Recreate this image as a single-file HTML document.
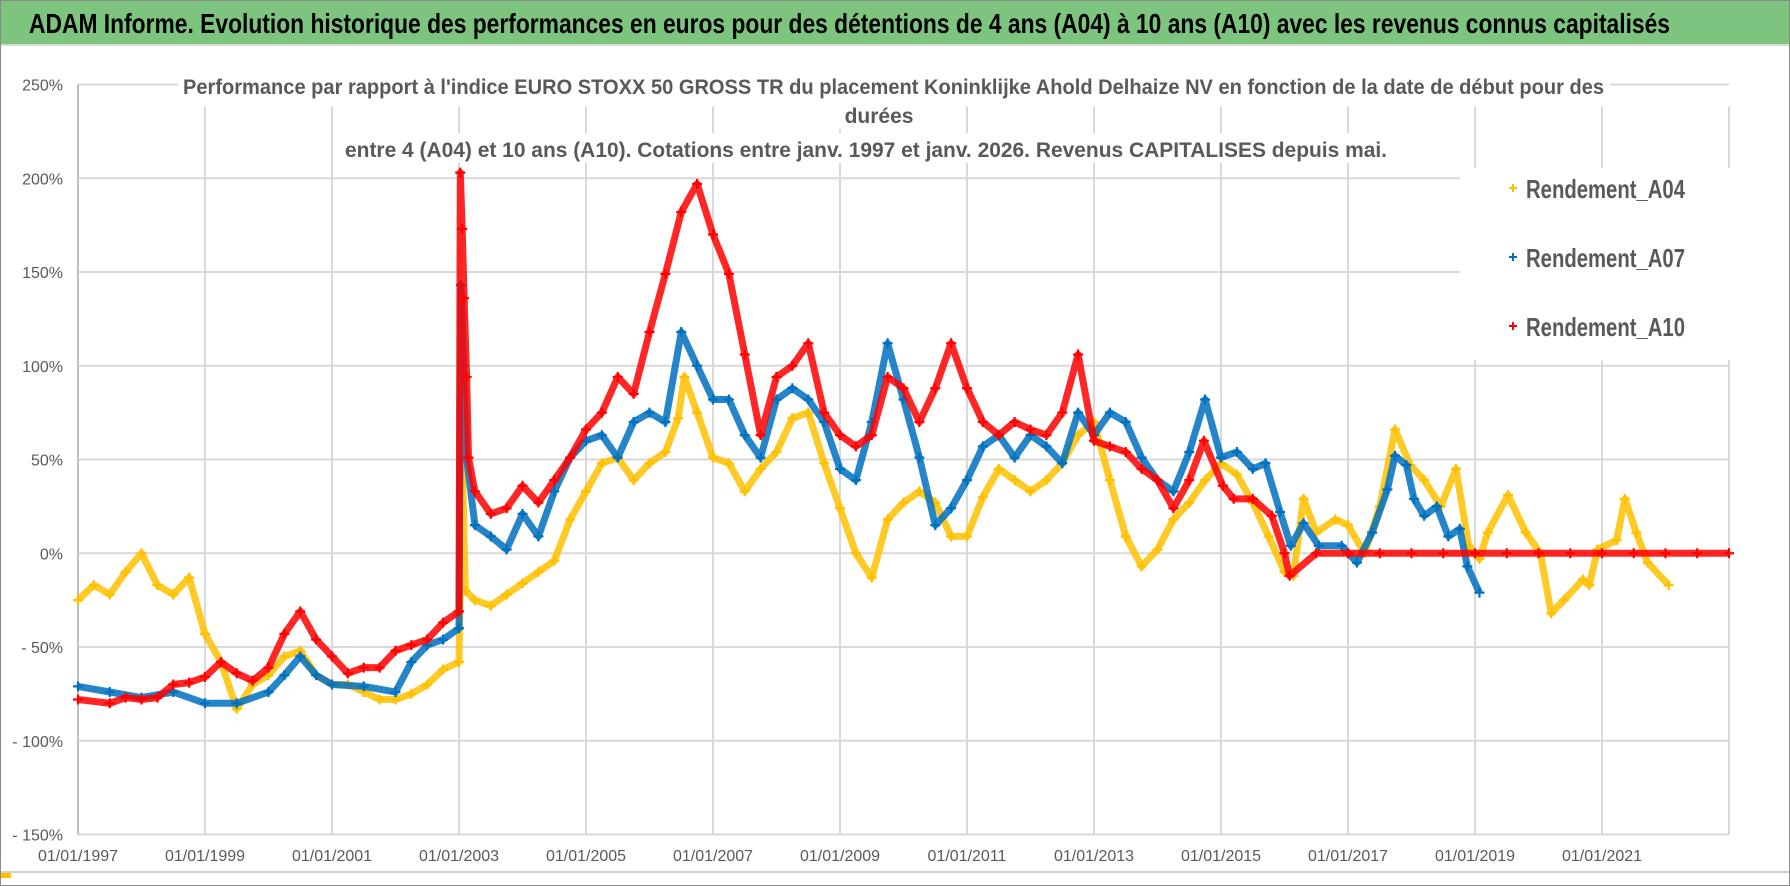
<!DOCTYPE html>
<html><head><meta charset="utf-8"><style>
html,body{margin:0;padding:0;background:#fff;}
svg{display:block;font-family:"Liberation Sans",sans-serif;}
</style></head><body>
<svg id="chart" width="1790" height="886" viewBox="0 0 1790 886">
<rect x="0.5" y="0.5" width="1789" height="885" fill="#fff" stroke="#8a8a8a"/>
<rect x="1" y="1" width="1788" height="43" fill="#7dc57e"/>
<line x1="1" y1="45" x2="1789" y2="45" stroke="#d9d9d9" stroke-width="2"/>
<text x="29" y="33" font-size="28" font-weight="bold" fill="#000" textLength="1641" lengthAdjust="spacingAndGlyphs">ADAM Informe. Evolution historique des performances en euros pour des détentions de 4 ans (A04) à 10 ans (A10) avec les revenus connus capitalisés</text>
<g id="grid"></g>
<g id="series"></g>
<rect x="1460" y="168" width="270" height="192" fill="#fff"/>
<g font-weight="bold" fill="#595959" font-size="21">
<rect x="178" y="72" width="1432" height="28" fill="#fff"/>
<rect x="836" y="101" width="88" height="28" fill="#fff"/>
<rect x="340" y="133" width="1052" height="30" fill="#fff"/>
<text x="183" y="94" textLength="1421" lengthAdjust="spacingAndGlyphs">Performance par rapport à l'indice EURO STOXX 50 GROSS TR  du placement Koninklijke Ahold Delhaize NV en fonction de la date de début pour des</text>
<text x="879" y="123" text-anchor="middle">durées</text>
<text x="345" y="157" textLength="1042" lengthAdjust="spacingAndGlyphs">entre 4 (A04) et 10 ans (A10).  Cotations entre janv. 1997 et janv. 2026. Revenus CAPITALISES depuis mai.</text>
</g>
<g id="legend"></g>
<line x1="1" y1="872" x2="1789" y2="872" stroke="#d0d0d0" stroke-width="2"/>
<rect x="1" y="873" width="10" height="5" fill="#ffc000"/>
</svg>
<script>
const yTicks = [250,200,150,100,50,0,-50,-100,-150];
const yTickLabels = ["250%","200%","150%","100%","50%","0%","- 50%","- 100%","- 150%"];
const xTicks = [1997,1999,2001,2003,2005,2007,2009,2011,2013,2015,2017,2019,2021,2023];
const xTickLabels = ["01/01/1997","01/01/1999","01/01/2001","01/01/2003","01/01/2005","01/01/2007","01/01/2009","01/01/2011","01/01/2013","01/01/2015","01/01/2017","01/01/2019","01/01/2021",""];
const seriesNames = ["Rendement_A04","Rendement_A07","Rendement_A10"];
const a04Dates = [1997.0,1997.25,1997.5,1997.75,1998.0,1998.25,1998.5,1998.75,1999.0,1999.25,1999.5,1999.75,2000.0,2000.25,2000.5,2000.75,2001.0,2001.25,2001.5,2001.75,2002.0,2002.25,2002.5,2002.75,2003.0,2003.05,2003.1,2003.25,2003.5,2003.75,2004.0,2004.25,2004.5,2004.75,2005.0,2005.25,2005.5,2005.75,2006.0,2006.25,2006.45,2006.55,2006.75,2007.0,2007.25,2007.5,2007.75,2008.0,2008.25,2008.5,2008.75,2009.0,2009.25,2009.5,2009.75,2010.0,2010.25,2010.5,2010.75,2011.0,2011.25,2011.5,2011.75,2012.0,2012.25,2012.5,2012.75,2013.0,2013.25,2013.5,2013.75,2014.0,2014.25,2014.5,2014.75,2015.0,2015.25,2015.5,2015.75,2016.0,2016.14,2016.3,2016.5,2016.8,2017.0,2017.26,2017.5,2017.74,2017.98,2018.2,2018.46,2018.7,2018.9,2019.07,2019.2,2019.52,2019.8,2020.03,2020.2,2020.4,2020.7,2020.8,2020.93,2021.23,2021.36,2021.54,2021.72,2022.05];
const a04Values = [-25,-17,-22,-10,0,-17,-22,-13,-43,-58,-83,-70,-65,-55,-52,-65,-70,-70,-74,-78,-78,-75,-70,-62,-58,50,-20,-25,-28,-22,-16,-10,-4,18,33,48,51,39,48,54,72,94,75,51,48,33,45,54,72,75,48,24,0,-13,18,27,33,27,9,9,30,45,39,33,39,48,63,70,39,9,-7,2,18,27,39,48,42,27,9,-10,-12,29,11,18,15,0,25,66,47,39,25,45,4,-3,11,31,11,0,-32,-25,-14,-17,2,7,29,11,-5,-17];
const a07Dates = [1997.0,1997.5,1998.0,1998.5,1999.0,1999.5,2000.0,2000.25,2000.5,2000.75,2001.0,2001.5,2002.0,2002.25,2002.5,2002.75,2003.0,2003.03,2003.07,2003.12,2003.25,2003.5,2003.75,2004.0,2004.25,2004.5,2004.75,2005.0,2005.25,2005.5,2005.75,2006.0,2006.25,2006.5,2006.75,2007.0,2007.25,2007.5,2007.75,2008.0,2008.25,2008.5,2008.75,2009.0,2009.25,2009.5,2009.75,2010.0,2010.25,2010.5,2010.75,2011.0,2011.25,2011.5,2011.75,2012.0,2012.25,2012.5,2012.75,2013.0,2013.25,2013.5,2013.75,2014.0,2014.25,2014.5,2014.75,2015.0,2015.25,2015.5,2015.7,2015.93,2016.1,2016.3,2016.54,2016.9,2017.14,2017.38,2017.62,2017.74,2017.92,2018.04,2018.2,2018.4,2018.58,2018.76,2018.88,2019.07];
const a07Values = [-71,-74,-77,-74,-80,-80,-74,-65,-55,-65,-70,-71,-74,-58,-49,-46,-40,143,100,51,15,9,2,21,9,33,51,60,63,51,70,75,70,118,100,82,82,63,51,82,88,82,70,45,39,70,112,82,51,15,24,39,57,63,51,63,57,48,75,63,75,70,51,39,33,54,82,51,54,45,48,22,4,16,4,4,-5,11,34,52,47,29,20,25,9,13,-7,-21];
const a10Dates = [1997.0,1997.5,1997.75,1998.0,1998.25,1998.5,1998.75,1999.0,1999.25,1999.5,1999.75,2000.0,2000.25,2000.5,2000.75,2001.0,2001.25,2001.5,2001.75,2002.0,2002.25,2002.5,2002.75,2003.0,2003.02,2003.05,2003.08,2003.12,2003.15,2003.25,2003.5,2003.75,2004.0,2004.25,2004.5,2004.75,2005.0,2005.25,2005.5,2005.75,2006.0,2006.25,2006.5,2006.75,2007.0,2007.25,2007.5,2007.75,2008.0,2008.25,2008.5,2008.75,2009.0,2009.25,2009.5,2009.75,2010.0,2010.25,2010.5,2010.75,2011.0,2011.25,2011.5,2011.75,2012.0,2012.25,2012.5,2012.75,2013.0,2013.25,2013.5,2013.75,2014.0,2014.25,2014.5,2014.73,2015.03,2015.2,2015.5,2015.8,2016.0,2016.08,2016.5,2017.0,2017.5,2018.0,2018.5,2019.0,2019.5,2020.0,2020.5,2021.0,2021.5,2022.0,2022.5,2023.0];
const a10Values = [-78,-80,-77,-78,-77,-70,-69,-66,-58,-64,-68,-61,-43,-31,-46,-55,-64,-61,-61,-52,-49,-46,-37,-31,203,173,136,94,51,33,21,24,36,27,39,51,66,75,94,85,118,149,182,197,170,149,106,63,94,100,112,75,63,57,63,94,88,70,88,112,88,70,63,70,66,63,75,106,60,57,54,45,39,24,39,60,36,29,29,20,0,-12,0,0,0,0,0,0,0,0,0,0,0,0,0,0];

const NS = "http://www.w3.org/2000/svg";
const gGrid = document.getElementById("grid");
const gSeries = document.getElementById("series");
const gLegend = document.getElementById("legend");
const L = 78, R = 1729, T = 84.5, B = 834.5;
function xScale(yr){ return L + (yr - 1997) / (2023 - 1997) * (R - L); }
function yScale(v){ return T + (250 - v) / 400 * (B - T); }
function mk(tag, attrs, parent){ const e = document.createElementNS(NS, tag); for (const k in attrs) e.setAttribute(k, attrs[k]); parent.appendChild(e); return e; }

yTicks.forEach((v, i) => {
  const y = yScale(v);
  const ln = mk("line", {x1: L, x2: R, y1: y, y2: y, stroke: "#d9d9d9", "stroke-width": 2}, gGrid);
  
  
  const t = mk("text", {x: 63, y: y + 6, "text-anchor": "end", "font-size": 16, fill: "#595959"}, gGrid);
  t.textContent = yTickLabels[i];
  
  
});
xTicks.forEach((yr, i) => {
  const x = xScale(yr);
  const ln = mk("line", {x1: x, x2: x, y1: T + 22, y2: B, stroke: "#d9d9d9", "stroke-width": 2}, gGrid);
  
  
  const t = mk("text", {x: x, y: 861, "text-anchor": "middle", "font-size": 16, fill: "#595959"}, gGrid);
  t.textContent = xTickLabels[i];
  
  
});
mk("line", {x1: L, x2: L, y1: T, y2: B, stroke: "#bfbfbf", "stroke-width": 2}, gGrid);

const colors = ["#ffc000", "#0070c0", "#ff0000"];
const allDates = [a04Dates, a07Dates, a10Dates];
const allValues = [a04Values, a07Values, a10Values];
const sNames = ["series-a04", "series-a07", "series-a10"];
allDates.forEach((dates, s) => {
  const g = mk("g", {}, gSeries);
  
  
  const vals = allValues[s];
  const pts = dates.map((d, i) => xScale(d).toFixed(1) + "," + yScale(vals[i]).toFixed(1)).join(" ");
  const pl = mk("polyline", {points: pts, fill: "none", stroke: colors[s], "stroke-width": 7, "stroke-linejoin": "round", opacity: 0.85}, g);
  
  
  dates.forEach((d, i) => {
    const x = xScale(d), y = yScale(vals[i]);
    const p = mk("path", {d: `M${x-5},${y}h10M${x},${y-5}v10`, stroke: colors[s], "stroke-width": 2.2}, g);
    
    
  });
});

const legY = [188, 257, 326];
seriesNames.forEach((n, i) => {
  const g = mk("g", {}, gLegend);
  
  
  mk("path", {d: `M${1509},${legY[i]}h8M${1513},${legY[i]-4}v8`, stroke: colors[i], "stroke-width": 2}, g);
  const t = mk("text", {x: 1526, y: legY[i] + 10, "font-size": 26, "font-weight": "bold", fill: "#595959", textLength: 159, lengthAdjust: "spacingAndGlyphs"}, g);
  t.textContent = n;
});
</script>
</body></html>
